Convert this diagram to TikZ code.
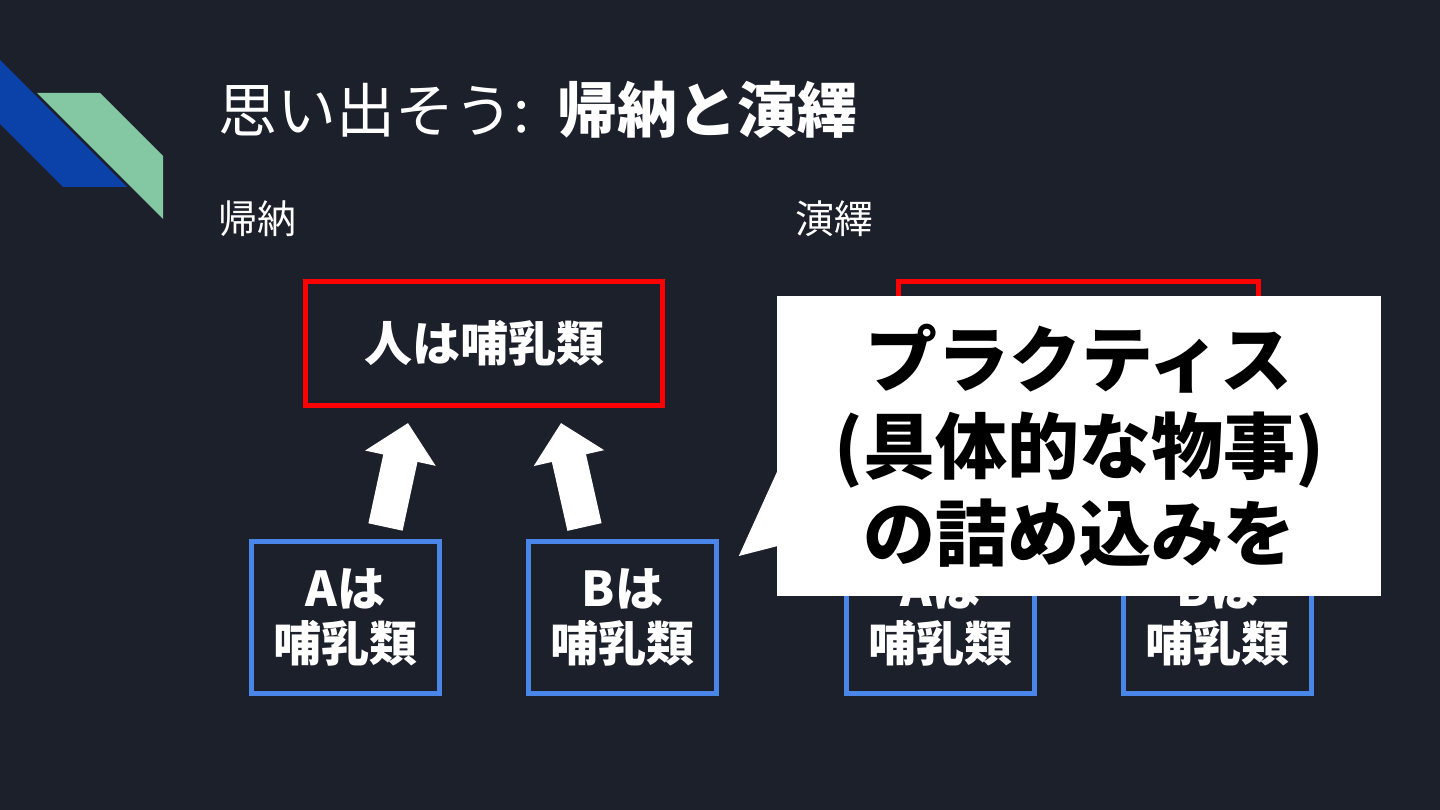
\documentclass[tikz,border=0pt]{standalone}
\usepackage{fontspec}
\setmainfont{Noto Sans CJK JP}
\usetikzlibrary{positioning, arrows.meta, calc}
\definecolor{slidebg}{RGB}{28,32,43}
\definecolor{rulered}{RGB}{255,0,0}
\definecolor{caseblue}{RGB}{74,134,232}
\definecolor{decoblue}{RGB}{10,66,170}
\definecolor{decogreen}{RGB}{132,199,163}
\newcommand{\jpsize}[2]{\fontsize{#1}{#2}\selectfont}
\tikzset{
  rulebox/.style={
    draw=rulered, line width=5pt, minimum width=357pt, minimum height=124pt,
    inner sep=0pt, text=white, font=\jpsize{48}{55}\bfseries
  },
  casebox/.style={
    draw=caseblue, line width=5pt, minimum width=188pt, minimum height=152pt,
    inner sep=0pt, align=center, text=white, font=\jpsize{48}{55}\bfseries
  },
  heading/.style={anchor=base west, inner sep=0pt, text=white},
  bigarrow/.style={draw=white, line width=35pt, -{Triangle[width=70pt, length=36pt]}},
  callout/.style={
    fill=white, minimum width=604pt, minimum height=300pt, inner sep=0pt,
    align=center, text=black, font=\jpsize{72}{87}\bfseries
  },
}

\begin{document}
\begin{tikzpicture}[x=1pt, y=-1pt]
  \fill[slidebg] (0,0) rectangle (1440,810);
  \useasboundingbox (0,0) rectangle (1440,810);

  % corner decoration
  \fill[decoblue] (0,60) -- (127,187) -- (63,187) -- (0,124) -- cycle;
  \fill[decogreen] (37,93) -- (100,93) -- (163,156) -- (163,219) -- cycle;

  % title and column labels
  \node[heading, font=\jpsize{59}{60}] (title) at (218,133) {思い出そう:};
  \node[heading, font=\jpsize{60}{60}\bfseries] (titlebold) at (557,133) {帰納と演繹};
  \node[heading, font=\jpsize{39}{40}] (indlabel) at (218,234) {帰納};
  \node[heading, font=\jpsize{39}{40}] (dedlabel) at (795,234) {演繹};

  % induction
  \node[rulebox] (indrule) at (484,343.5) {人は哺乳類};
  \node[casebox] (indA) at (345.5,617.5) {Aは\\哺乳類};
  \node[casebox] (indB) at (622.5,617.5) {Bは\\哺乳類};

  % deduction
  \node[rulebox, minimum width=360pt] (dedrule) at (1078.5,343.5) {};
  \node[casebox] (dedA) at (940.5,617.5) {Aは\\哺乳類};
  \node[casebox] (dedB) at (1217.5,617.5) {Bは\\哺乳類};

  % block arrows (cases -> rule)
  \coordinate (tailA) at ($(indA.north)+(40,-12)$);
  \coordinate (tipA) at ($(indrule.south)+(-76,15)$);
  \coordinate (tailB) at ($(indB.north)+(-38,-12)$);
  \coordinate (tipB) at ($(indrule.south)+(77,15)$);
  \draw[bigarrow] (tailA) -- (tipA);
  \draw[bigarrow] (tailB) -- (tipB);

  % speech bubble
  \node[callout] (note) at (1079,446) {プラクティス\\(具体的な物事)\\の詰め込みを};
  \fill[white] ($(note.west)+(1,24)$) -- ($(note.west)+(-38,110)$) -- ($(note.west)+(1,100)$) -- cycle;
\end{tikzpicture}
\end{document}
